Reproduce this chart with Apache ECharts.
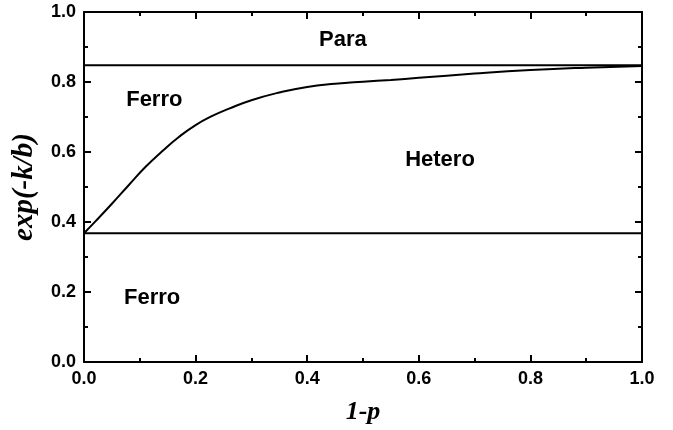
<!DOCTYPE html>
<html>
<head>
<meta charset="utf-8">
<script src="https://cdn.jsdelivr.net/npm/echarts@6/dist/echarts.min.js"></script>
<style>html,body{margin:0;padding:0;background:#fff}#c{width:673px;height:430px}</style>
</head>
<body>
<div id="c"></div>
<script>
// Boundary curve (Ferro / Hetero), x = 1-p, y = exp(-k/b)
var curveX = [0, 0.02, 0.05, 0.08, 0.11, 0.14, 0.17, 0.2, 0.23, 0.26, 0.3, 0.35, 0.4, 0.45, 0.5, 0.55, 0.6, 0.7, 0.8, 0.9, 1.0];
var curveY = [0.368, 0.401, 0.452, 0.505, 0.557, 0.602, 0.643, 0.677, 0.703, 0.724, 0.748, 0.770, 0.786, 0.795, 0.801, 0.806, 0.812, 0.824, 0.834, 0.841, 0.846];
// Horizontal phase boundaries
var upperLevel = 0.848;
var lowerLevel = 0.368;
// Region labels
var regionNames = ['Para', 'Ferro', 'Hetero', 'Ferro'];
var regionX = [0.464, 0.126, 0.638, 0.122];
var regionY = [0.921, 0.749, 0.578, 0.184];
// Axes
var xTicks = [0, 0.2, 0.4, 0.6, 0.8, 1.0];
var yTicks = [0, 0.2, 0.4, 0.6, 0.8, 1.0];
var xName = '1-p';
var yName = 'exp(-k/b)';

var chart = echarts.init(document.getElementById('c'));
var tickFont = {fontFamily: 'Liberation Sans, Arial, sans-serif', fontWeight: 'bold', fontSize: 18, color: '#000'};
function axisBase(extra) {
  var a = {
    min: 0, max: 1, interval: 0.2,
    axisLine: {show: true, onZero: false, lineStyle: {color: '#000', width: 2}},
    axisTick: {show: true, inside: true, length: 7, lineStyle: {color: '#000', width: 2}},
    minorTick: {show: true, splitNumber: 2, length: 4, lineStyle: {color: '#000', width: 2}},
    splitLine: {show: false},
    minorSplitLine: {show: false}
  };
  for (var k in extra) a[k] = extra[k];
  return a;
}
var curveData = curveX.map(function (x, i) { return [x, curveY[i]]; });
var labelData = regionNames.map(function (n, i) { return {value: [regionX[i], regionY[i]], name: n}; });

chart.setOption({
  animation: false,
  grid: {left: 84, right: 31, top: 12, bottom: 65},
  xAxis: [
    axisBase({type: 'value', position: 'bottom',
      name: xName, nameLocation: 'middle', nameGap: 37,
      nameTextStyle: {fontFamily: 'Liberation Serif, Times New Roman, serif', fontStyle: 'italic', fontWeight: 'bold', fontSize: 26, color: '#000'},
      axisLabel: Object.assign({margin: 8, formatter: function (v) { return v.toFixed(1); }}, tickFont)}),
    axisBase({type: 'value', position: 'top', axisLabel: {show: false}})
  ],
  yAxis: [
    axisBase({type: 'value', position: 'left',
      name: yName, nameLocation: 'middle', nameGap: 45,
      nameTextStyle: {fontFamily: 'Liberation Serif, Times New Roman, serif', fontStyle: 'italic', fontWeight: 'bold', fontSize: 29, color: '#000'},
      axisLabel: Object.assign({margin: 8, formatter: function (v) { return v.toFixed(1); }}, tickFont)}),
    axisBase({type: 'value', position: 'right', axisLabel: {show: false}})
  ],
  series: [
    {type: 'line', data: curveData, smooth: true, symbol: 'none', lineStyle: {color: '#000', width: 2}},
    {type: 'line', data: [[0, upperLevel], [1, upperLevel]], symbol: 'none', lineStyle: {color: '#000', width: 2}},
    {type: 'line', data: [[0, lowerLevel], [1, lowerLevel]], symbol: 'none', lineStyle: {color: '#000', width: 2}},
    {type: 'scatter', data: labelData, symbolSize: 0, silent: true, itemStyle: {opacity: 1},
      label: {show: true, position: 'inside', opacity: 1, formatter: function (p) { return p.name; },
        fontFamily: 'Liberation Sans, Arial, sans-serif', fontWeight: 'bold', fontSize: 22, color: '#000'}}
  ]
});
</script>
</body>
</html>
